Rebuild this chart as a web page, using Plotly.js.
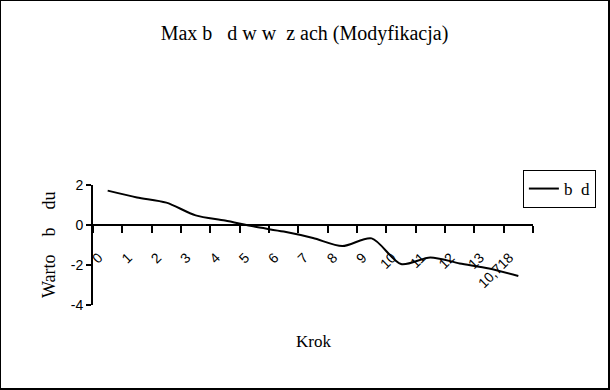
<!DOCTYPE html>
<html>
<head>
<meta charset="utf-8">
<script src="https://cdn.plot.ly/plotly-3.0.1.min.js"></script>
<style>
html,body{margin:0;padding:0;background:#fff;}
#wrap{position:absolute;left:0;top:0;width:607px;height:387px;border-left:1px solid #000;border-top:1px solid #000;border-right:2px solid #000;border-bottom:2px solid #000;}
#chart{width:607px;height:387px;}
</style>
</head>
<body>
<div id="wrap"><div id="chart"></div></div>
<script>
var categories = ['0','1','2','3','4','5','6','7','8','9','10','11','12','13','10,718'];
var bladValues = [1.72, 1.38, 1.12, 0.48, 0.22, -0.08, -0.33, -0.65, -1.05, -0.67, -1.95, -1.62, -1.92, -2.17, -2.55];
var yTickVals = [-4, -2, 0, 2];
var yTickText = ['-4', '-2', '0', '2'];

var NB = '\u00A0';
var titleText = 'Max b' + NB + NB + NB + 'd w w' + NB + NB + 'z' + NB + 'ach (Modyfikacja)';
var yTitleText = 'Warto' + NB + NB + NB + NB + 'b' + NB + NB + NB + NB + 'du';
var legendName = 'b' + NB + NB + 'd';

var catIndex = categories.map(function (c, i) { return i; });

var trace = {
  x: catIndex,
  y: bladValues,
  type: 'scatter',
  mode: 'lines',
  name: legendName,
  line: {color: '#000', width: 2, shape: 'spline', smoothing: 0.8}
};

var layout = {
  width: 607, height: 387,
  margin: {l: 92, r: 75, t: 184, b: 83},
  paper_bgcolor: '#fff', plot_bgcolor: '#fff',
  showlegend: true,
  title: {
    text: titleText,
    font: {family: 'Liberation Serif, Times New Roman, serif', size: 20, color: '#000'},
    x: 0.5, xref: 'container', xanchor: 'center',
    y: 1 - 32/387, yref: 'container', yanchor: 'middle'
  },
  xaxis: {
    type: 'linear',
    range: [-0.5, categories.length - 0.5],
    tickmode: 'array', tickvals: catIndex, ticktext: categories,
    anchor: 'free',
    position: 4/6,
    showline: true, linecolor: '#000', linewidth: 2,
    ticks: '',
    minor: {ticks: 'outside', ticklen: 7, tickwidth: 2, tickcolor: '#000', tick0: -0.5, dtick: 1, showgrid: false},
    tickangle: -45,
    ticklabelstandoff: 18,
    ticklabelshift: -9,
    tickfont: {family: 'Liberation Sans, Arial, sans-serif', size: 14, color: '#000'},
    showgrid: false, zeroline: false, fixedrange: true
  },
  yaxis: {
    range: [-4, 2],
    tickvals: yTickVals, ticktext: yTickText,
    showline: true, linecolor: '#000', linewidth: 2,
    ticks: 'outside', ticklen: 5, tickwidth: 2, tickcolor: '#000',
    tickfont: {family: 'Liberation Sans, Arial, sans-serif', size: 14, color: '#000'},
    showgrid: false, zeroline: false, fixedrange: true
  },
  legend: {
    x: 0.977, y: 1.125, xanchor: 'left', yanchor: 'top',
    bordercolor: '#000', borderwidth: 1, bgcolor: '#fff',
    font: {family: 'Liberation Serif, Times New Roman, serif', size: 17, color: '#000'},
    tracegroupgap: 0
  },
  annotations: [
    {text: 'Krok', xref: 'paper', yref: 'paper', x: 0.5, y: -(341-305)/120,
     xanchor: 'center', yanchor: 'middle', showarrow: false,
     font: {family: 'Liberation Serif, Times New Roman, serif', size: 17, color: '#000'}},
    {text: yTitleText, xref: 'paper', yref: 'paper', x: -(93-49)/440, y: 0.5,
     xanchor: 'center', yanchor: 'middle', showarrow: false, textangle: -90,
     font: {family: 'Liberation Serif, Times New Roman, serif', size: 18, color: '#000'}}
  ]
};

Plotly.newPlot('chart', [trace], layout, {displayModeBar: false, staticPlot: true});
</script>
</body>
</html>
